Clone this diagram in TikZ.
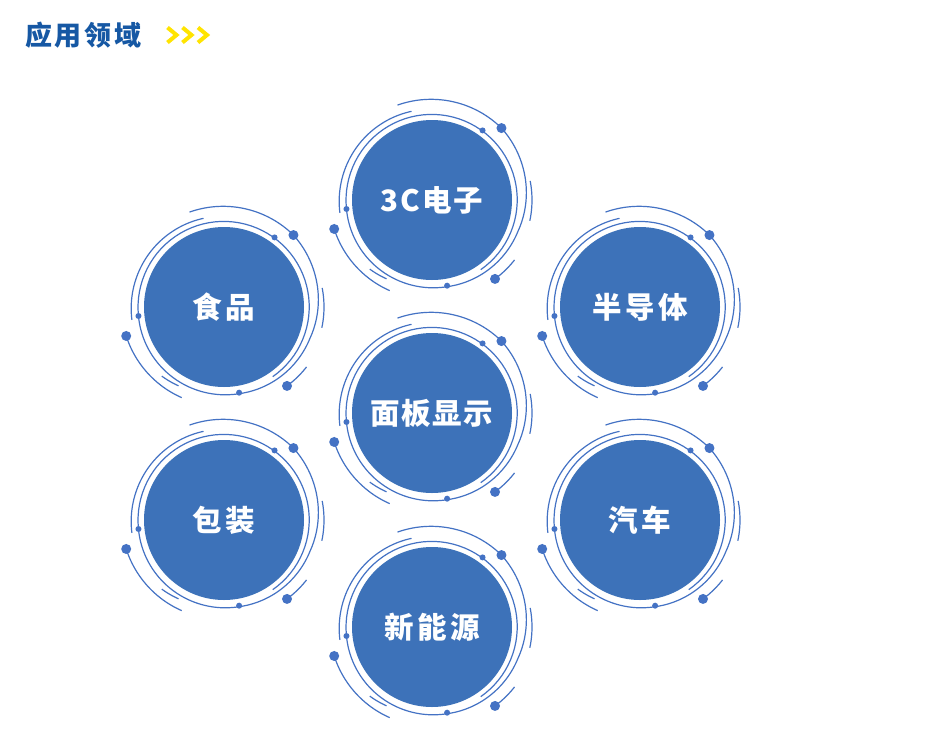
\documentclass[tikz,border=0pt]{standalone}
\usepackage{fontspec}
\setmainfont{Noto Sans CJK SC}
\definecolor{fillblue}{RGB}{61,114,185}
\definecolor{lineblue}{RGB}{68,114,196}
\definecolor{titleblue}{RGB}{22,88,164}
\definecolor{chevyellow}{RGB}{255,228,0}
\newcommand\orbarc[4]{\draw[orbline] plot[domain=#1:#3,samples=60,variable=\oa]
  ({(#2+(#4-#2)*(\oa-#1)/(#3-#1))*cos(\oa)},{-(#2+(#4-#2)*(\oa-#1)/(#3-#1))*sin(\oa)});}
\newcommand\pdot[3]{\fill[lineblue] ({#2*cos(#1)},{-#2*sin(#1)}) circle[radius=#3pt];}
\begin{document}
\begin{tikzpicture}[x=1pt,y=-1pt,
  orbline/.style={draw=lineblue, line width=1.2pt},
  bubble/.style={circle, fill=fillblue, minimum size=160pt, inner sep=0pt, text=white,
    font=\fontsize{29.5}{32}\selectfont\bfseries\addfontfeature{LetterSpace=12}},
  chev/.style={draw=chevyellow, line width=4pt, line join=miter},
  orbit/.pic={
    \orbarc{-55}{85}{186}{86}
    \orbarc{186}{86}{280}{88}
    \orbarc{-80}{88}{-20}{91.5}
    \orbarc{-20}{91.5}{46}{100}
    \orbarc{228}{93}{240}{91}
    \orbarc{196.5}{102}{245}{100}
    \orbarc{103}{91}{188}{93}
    \orbarc{46}{100}{110}{101}
    \orbarc{-12}{100}{11}{100}
    \orbarc{-51.4}{101}{-36}{102}
    \pdot{46}{100}{5}
    \pdot{196.5}{102}{5}
    \pdot{-51.4}{101}{5}
    \pdot{54}{86}{3}
    \pdot{186}{86}{3}
    \pdot{-80}{87}{3}
  }]
\useasboundingbox (0,0) rectangle (927,734);
\fill[white] (0,0) rectangle (927,734);

\node[anchor=west, inner sep=0pt, text=titleblue,
  font=\fontsize{27}{30}\selectfont\bfseries\addfontfeature{LetterSpace=10}] (title) at (25,35) {应用领域};
\draw[chev] (167.5,27.5) -- (176.5,35) -- (167.5,42.5);
\draw[chev] (182.5,27.5) -- (191.5,35) -- (182.5,42.5);
\draw[chev] (198,27.5) -- (207,35) -- (198,42.5);

\foreach \cx/\cy in {432/200, 224/307, 640/307, 432/413, 224/520, 640/520, 432/627}
  \pic at (\cx,\cy) {orbit};

\node[bubble, font=\fontsize{29.5}{32}\selectfont\bfseries\addfontfeature{LetterSpace=7}] (c3c) at (432,200) {3C电子};
\node[bubble] (food) at (224,307) {食品};
\node[bubble] (semi) at (640,307) {半导体};
\node[bubble, font=\fontsize{29.5}{32}\selectfont\bfseries\addfontfeature{LetterSpace=5}] (panel) at (432,413) {面板显示};
\node[bubble] (pack) at (224,520) {包装};
\node[bubble] (car) at (640,520) {汽车};
\node[bubble] (energy) at (432,627) {新能源};
\end{tikzpicture}
\end{document}
